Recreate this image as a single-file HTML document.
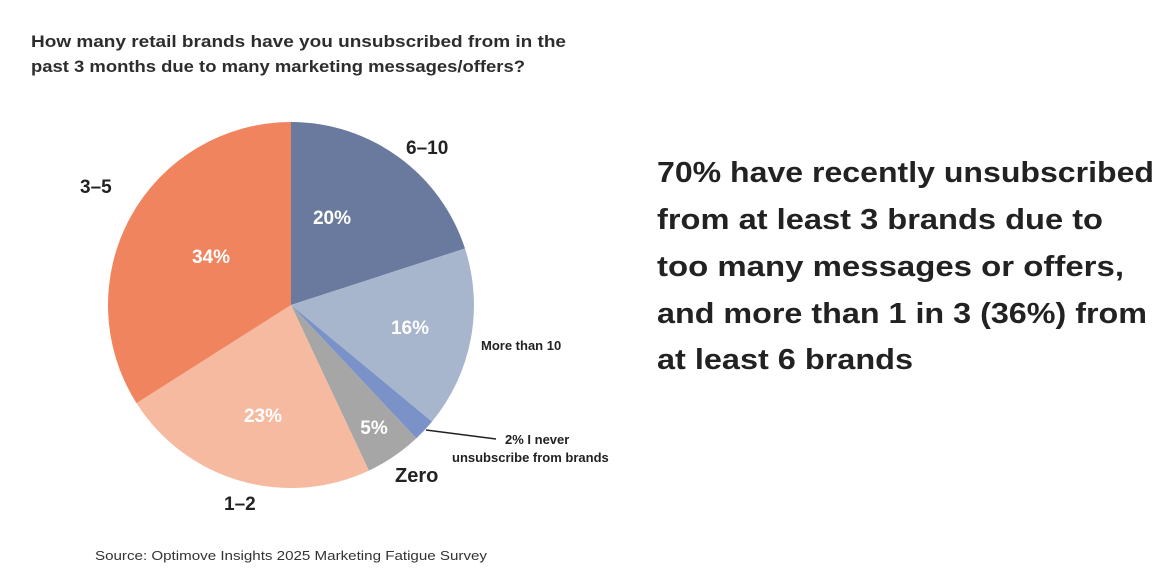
<!DOCTYPE html>
<html><head><meta charset="utf-8"><style>
html,body{margin:0;padding:0;background:#fff;}
svg{display:block;font-family:"Liberation Sans",sans-serif;}
</style></head><body>
<svg width="1176" height="578" viewBox="0 0 1176 578">
<rect width="1176" height="578" fill="#fff"/>
<g font-weight="bold" fill="#2d2d2d" font-size="17">
<text x="31" y="47" textLength="535" lengthAdjust="spacingAndGlyphs">How many retail brands have you unsubscribed from in the</text>
<text x="31" y="72" textLength="494" lengthAdjust="spacingAndGlyphs">past 3 months due to many marketing messages/offers?</text>
</g>
<g stroke="none">
<path d="M291,305 L291,122 A183,183 0 0 1 465,248.5 Z" fill="#6a7a9e"/>
<path d="M291,305 L465,248.5 A183,183 0 0 1 432,421.6 Z" fill="#a7b5cd"/>
<path d="M291,305 L432,421.6 A183,183 0 0 1 416.3,438.4 Z" fill="#7b92c8"/>
<path d="M291,305 L416.3,438.4 A183,183 0 0 1 368.9,470.6 Z" fill="#a6a6a6"/>
<path d="M291,305 L368.9,470.6 A183,183 0 0 1 136.5,403.1 Z" fill="#f6baa0"/>
<path d="M291,305 L136.5,403.1 A183,183 0 0 1 291,122 Z" fill="#f0845f"/>
</g>
<g fill="#fff" font-weight="bold" font-size="19" text-anchor="middle">
<text x="332" y="224">20%</text>
<text x="410" y="334">16%</text>
<text x="211" y="263">34%</text>
<text x="263" y="422">23%</text>
<text x="374" y="434">5%</text>
</g>
<line x1="426" y1="430" x2="496" y2="439" stroke="#222" stroke-width="1.5"/>
<g fill="#222" font-weight="bold">
<text x="406" y="154" font-size="19">6–10</text>
<text x="80" y="193" font-size="19">3–5</text>
<text x="224" y="510" font-size="19">1–2</text>
<text x="395" y="482" font-size="20">Zero</text>
<text x="481" y="350" font-size="13">More than 10</text>
<text x="505" y="444" font-size="13">2% I never</text>
<text x="452" y="462" font-size="13">unsubscribe from brands</text>
</g>
<text x="95" y="560" font-size="13" fill="#333" textLength="392" lengthAdjust="spacingAndGlyphs">Source: Optimove Insights 2025 Marketing Fatigue Survey</text>
<g fill="#222" font-weight="bold" font-size="29">
<text x="657" y="182" textLength="497" lengthAdjust="spacingAndGlyphs">70% have recently unsubscribed</text>
<text x="657" y="229" textLength="446" lengthAdjust="spacingAndGlyphs">from at least 3 brands due to</text>
<text x="657" y="276" textLength="467" lengthAdjust="spacingAndGlyphs">too many messages or offers,</text>
<text x="657" y="323" textLength="490" lengthAdjust="spacingAndGlyphs">and more than 1 in 3 (36%) from</text>
<text x="657" y="369" textLength="256" lengthAdjust="spacingAndGlyphs">at least 6 brands</text>
</g>
</svg>
</body></html>
